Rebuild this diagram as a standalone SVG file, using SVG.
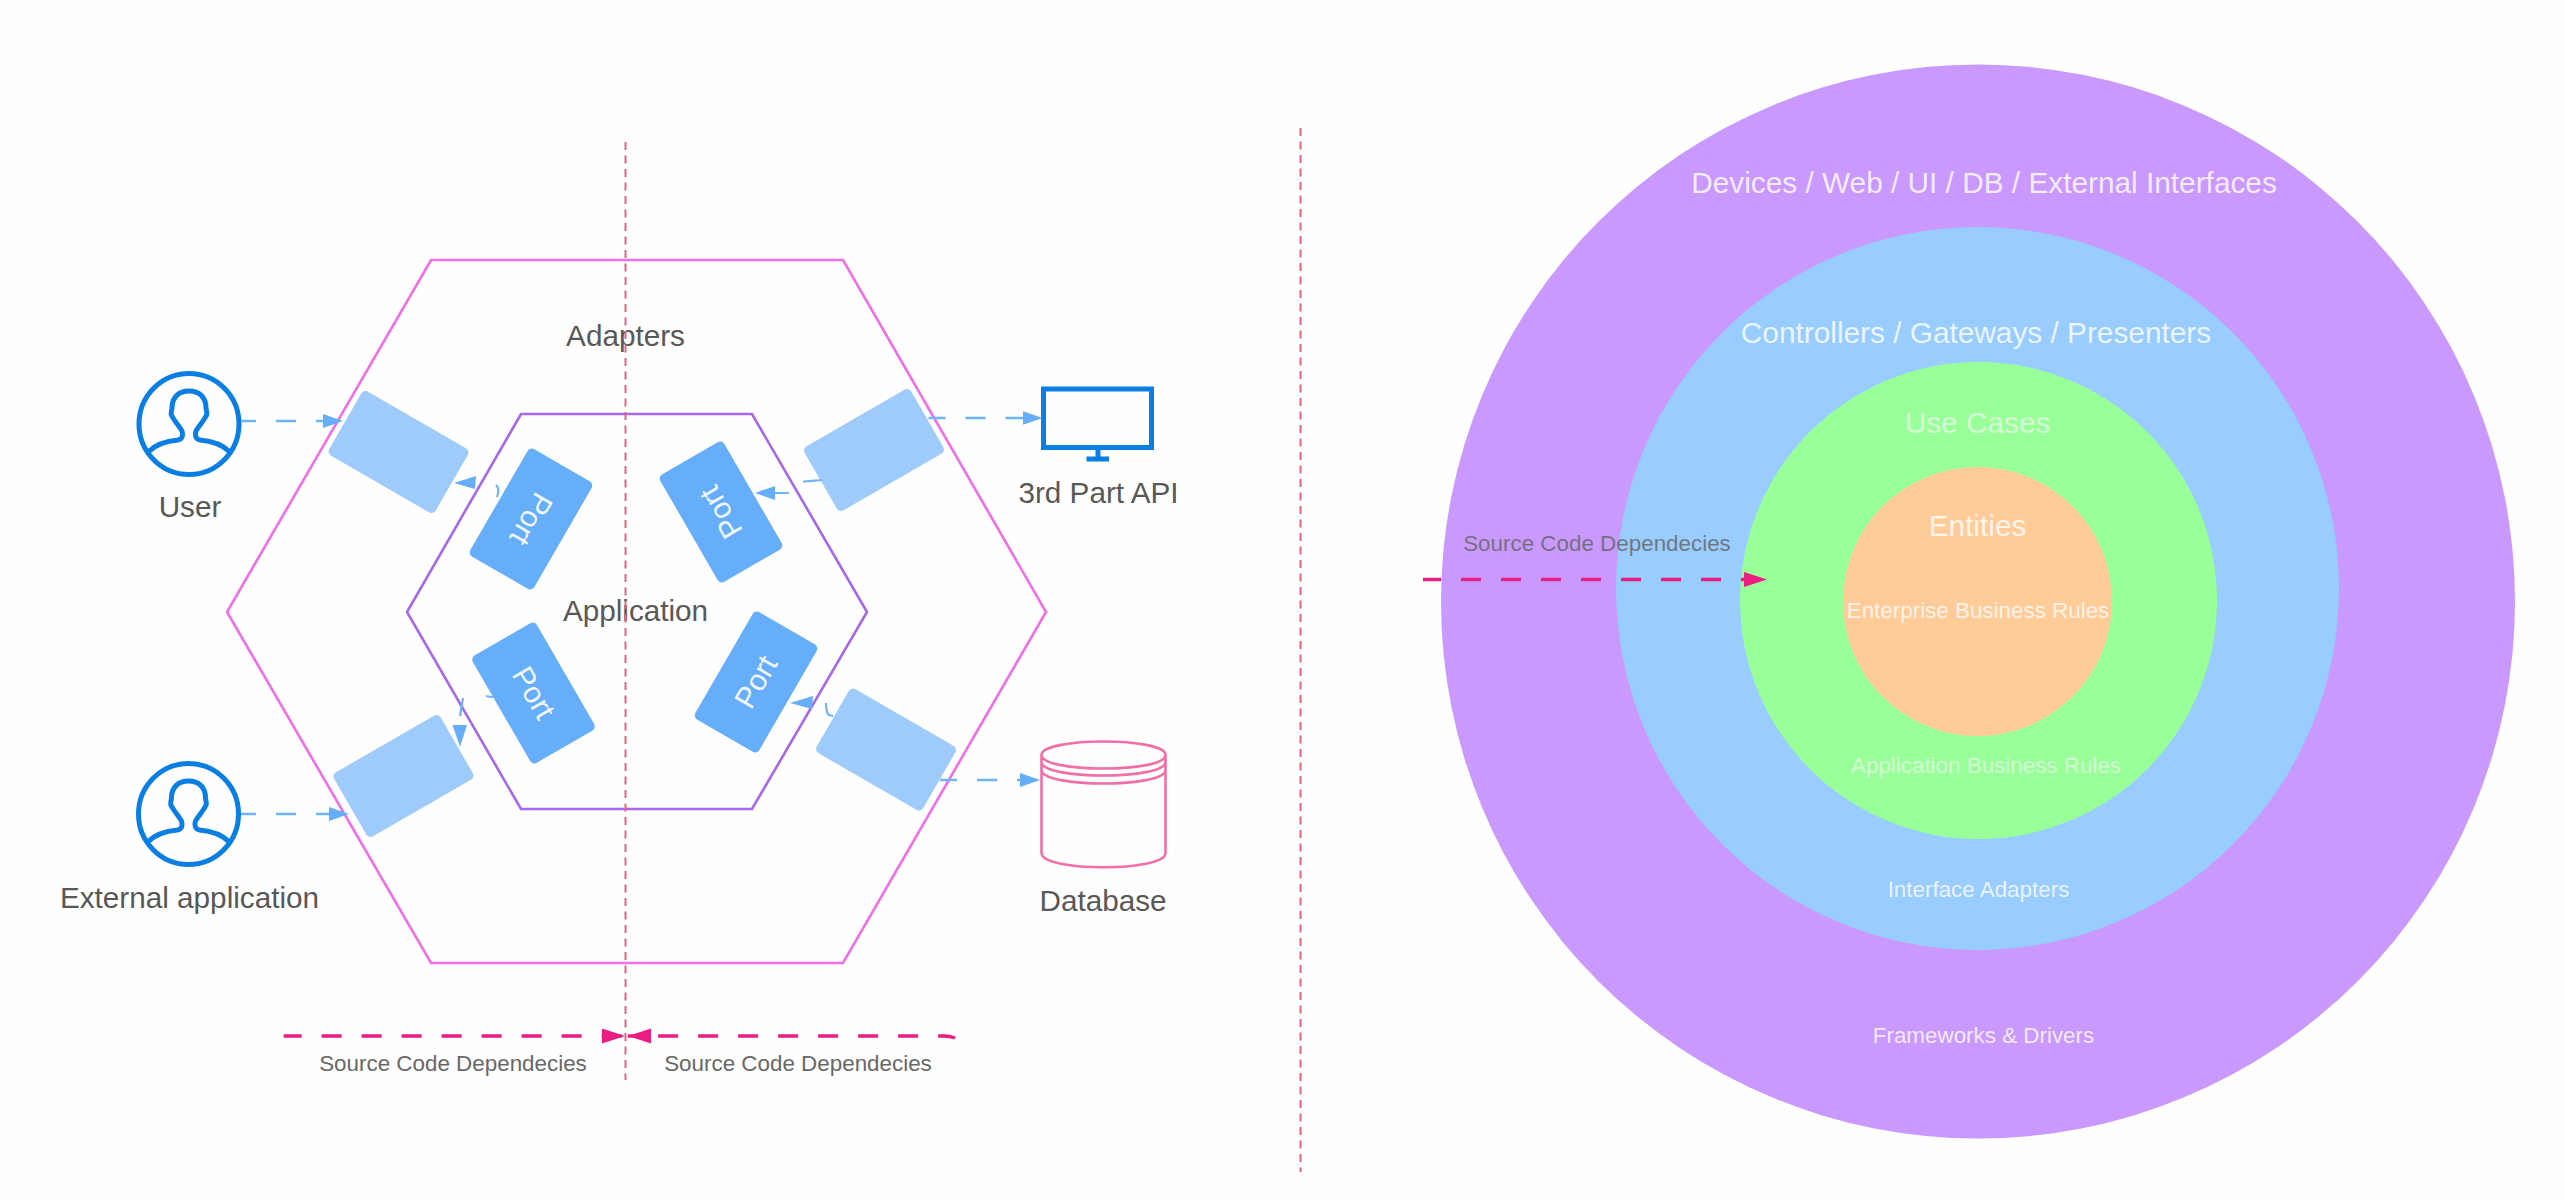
<svg xmlns="http://www.w3.org/2000/svg" width="2565" height="1200" viewBox="0 0 2565 1200">
<style>
text{font-family:"Liberation Sans",Arial,sans-serif;text-anchor:middle}
.lab{font-size:29.7px;fill:#585858}
.src{font-size:22.4px;fill:#686868}
.wl{font-size:29.8px;fill:#fff;fill-opacity:.82}
.ws{font-size:22.4px;fill:#fff;fill-opacity:.8}
.soft{fill-opacity:.6}
.port-t{font-size:30px;fill:#fff;fill-opacity:.92}
.adapter{fill:#9fcbfb}
.port{fill:#66aef9}
.guide{stroke:#e3647f;stroke-width:2;stroke-dasharray:8 5.500;fill:none}
.dash{stroke:#6db4f8;stroke-width:2.5;stroke-dasharray:20 20;fill:none}
.frag{stroke:#6db4f8;stroke-width:2.2;fill:none}
.head{fill:#66aef9}
.src-line{stroke:#e91e80;stroke-width:3.400;stroke-dasharray:20 20;fill:none}
.icon{fill:none;stroke:#0a7ee3;stroke-width:5}
.db{fill:none;stroke:#f26fa6;stroke-width:2.6}
</style>
<defs>
<marker id="ah" markerUnits="userSpaceOnUse" markerWidth="20" markerHeight="16" refX="20" refY="7.5" orient="auto"><path d="M0 0.5L20 7.5L0 14.5z" fill="#66aef9"/></marker>
<marker id="pk" markerUnits="userSpaceOnUse" markerWidth="24" markerHeight="16" refX="23" refY="7.5" orient="auto"><path d="M0 0L23 7.5L0 15z" fill="#e91e80"/></marker>
<g id="person"><ellipse class="icon" cx="0" cy="0" rx="50" ry="50.5"/><path class="icon" stroke-width="4.5" d="M-41 28C-33 20-22 17-11 16C-6 15.500-6 10-7 7C-9 3-14-2-17-8C-19-10-17-14-17-16C-17-27-10-33 0-33C10-33 17-27 17-16C17-14 19-10 17-8C14-2 9 3 7 7C6 10 6 15.500 11 16C22 17 33 20 41 28"/></g>
</defs>
<rect width="2565" height="1200" fill="#fefefe"/>

<g id="ring-frameworks"><circle cx="1978" cy="601.500" r="537" fill="#c999fe"/><text class="wl" x="1984" y="193">Devices / Web / UI / DB / External Interfaces</text><text class="ws" x="1983.500" y="1043">Frameworks &amp; Drivers</text></g>
<g id="ring-adapters"><circle cx="1977.500" cy="588.500" r="361.500" fill="#99ccff"/><text class="wl" x="1976" y="343">Controllers / Gateways / Presenters</text><text class="ws" x="1978.500" y="897">Interface Adapters</text></g>
<g id="ring-usecases"><circle cx="1978.500" cy="600.500" r="238.500" fill="#99ff99"/><text class="wl soft" x="1977.500" y="433">Use Cases</text><text class="ws soft" x="1986" y="773">Application Business Rules</text></g>
<g id="ring-entities"><circle cx="1977.500" cy="601.500" r="134.500" fill="#ffcc99"/><text class="wl" x="1977.500" y="536">Entities</text><text class="ws" x="1978" y="618">Enterprise Business Rules</text></g>

<g id="hex-adapters"><polygon points="431,260 843,260 1046,612 843,963 431,963 227,612" fill="none" stroke="#f26ee8" stroke-width="2.600"/><text class="lab" x="625.500" y="346">Adapters</text></g>
<g id="hex-application"><polygon points="521,414 752,414 867,612 752,809 521,809 407,612" fill="none" stroke="#a668e8" stroke-width="2.600"/><text class="lab" x="635.500" y="621">Application</text></g>

<g id="adapter-tl"><rect class="adapter" x="-61.500" y="-37" width="123" height="74" rx="5" transform="translate(398.500 452) rotate(30)"/></g>
<g id="adapter-tr"><rect class="adapter" x="-61.500" y="-37" width="123" height="74" rx="5" transform="translate(874 450) rotate(-30)"/></g>
<g id="adapter-bl"><rect class="adapter" x="-61.500" y="-37" width="123" height="74" rx="5" transform="translate(403.500 776) rotate(-30)"/></g>
<g id="adapter-br"><rect class="adapter" x="-61.500" y="-37" width="123" height="74" rx="5" transform="translate(886 749.500) rotate(30)"/></g>

<g id="port-tl" transform="translate(531 519) rotate(120)"><rect class="port" x="-62" y="-37" width="124" height="74" rx="5"/><text class="port-t" y="10">Port</text></g>
<g id="port-tr" transform="translate(721 512) rotate(-120)"><rect class="port" x="-62" y="-37" width="124" height="74" rx="5"/><text class="port-t" y="10">Port</text></g>
<g id="port-bl" transform="translate(533.500 693) rotate(60)"><rect class="port" x="-62" y="-37" width="124" height="74" rx="5"/><text class="port-t" y="10">Port</text></g>
<g id="port-br" transform="translate(756 682) rotate(-60)"><rect class="port" x="-62" y="-37" width="124" height="74" rx="5"/><text class="port-t" y="10">Port</text></g>

<g id="user"><use href="#person" x="189" y="424"/><text class="lab" x="190" y="517">User</text></g>
<g id="external-application"><use href="#person" x="188.500" y="814"/><text class="lab" x="189.500" y="908">External application</text></g>
<g id="third-party-api"><rect class="icon" x="1043.500" y="389" width="108" height="58.500"/><path d="M1095.500 449h5v8h-5zM1086.500 456.500h22.500v5h-22.500z" fill="#0a7ee3"/><text class="lab" x="1098.500" y="503">3rd Part API</text></g>
<g id="database"><path class="db" d="M1041.500 755C1041.500 737 1165.500 737 1165.500 755V853C1165.500 872 1041.500 872 1041.500 853V755C1041.500 773 1165.500 773 1165.500 755M1041.500 762C1041.500 780 1165.500 780 1165.500 762M1041.500 770C1041.500 788 1165.500 788 1165.500 770"/><text class="lab" x="1103" y="911">Database</text></g>

<g id="connectors">
<path class="dash" stroke-dashoffset="5.500" marker-end="url(#ah)" d="M241.600 421H343"/>
<path class="dash" stroke-dashoffset="5" marker-end="url(#ah)" d="M241 814H349"/>
<path class="dash" stroke-dashoffset="3" marker-end="url(#ah)" d="M928.500 418H1042.500"/>
<path class="dash" stroke-dashoffset="3" marker-end="url(#ah)" d="M940 780H1040"/>
<polygon class="head" points="454,483 476,476 475,489"/>
<path class="frag" d="M496 485C499 488 499 492 497 497"/>
<polygon class="head" points="755,493 775,486 775,500"/>
<path class="frag" d="M775 493H789M803 481.500Q812 481 822 480"/>
<polygon class="head" points="460,747 452.500,725 467,725"/>
<path class="frag" d="M463 698L460 716M486 696Q490 697 493 697"/>
<polygon class="head" points="790,703 813,696 812,709"/>
<path class="frag" d="M826 703Q826 713 829 715L833 716"/>
<path class="guide" d="M625.500 142V1080"/>
<path class="guide" d="M1300.500 128V1172"/>
<path class="src-line" stroke-dashoffset="2" marker-end="url(#pk)" d="M283.600 1036H625"/>
<path class="src-line" stroke-dashoffset="3" marker-end="url(#pk)" d="M955 1038Q950 1036 944 1036H628"/>
<path class="src-line" stroke-dashoffset="2" marker-end="url(#pk)" d="M1423 579.500H1767"/>
</g>

<g id="source-labels">
<text class="src" x="453" y="1071">Source Code Dependecies</text>
<text class="src" x="798" y="1071">Source Code Dependecies</text>
<text class="src" x="1597" y="551" fill-opacity=".85">Source Code Dependecies</text>
</g>
</svg>
